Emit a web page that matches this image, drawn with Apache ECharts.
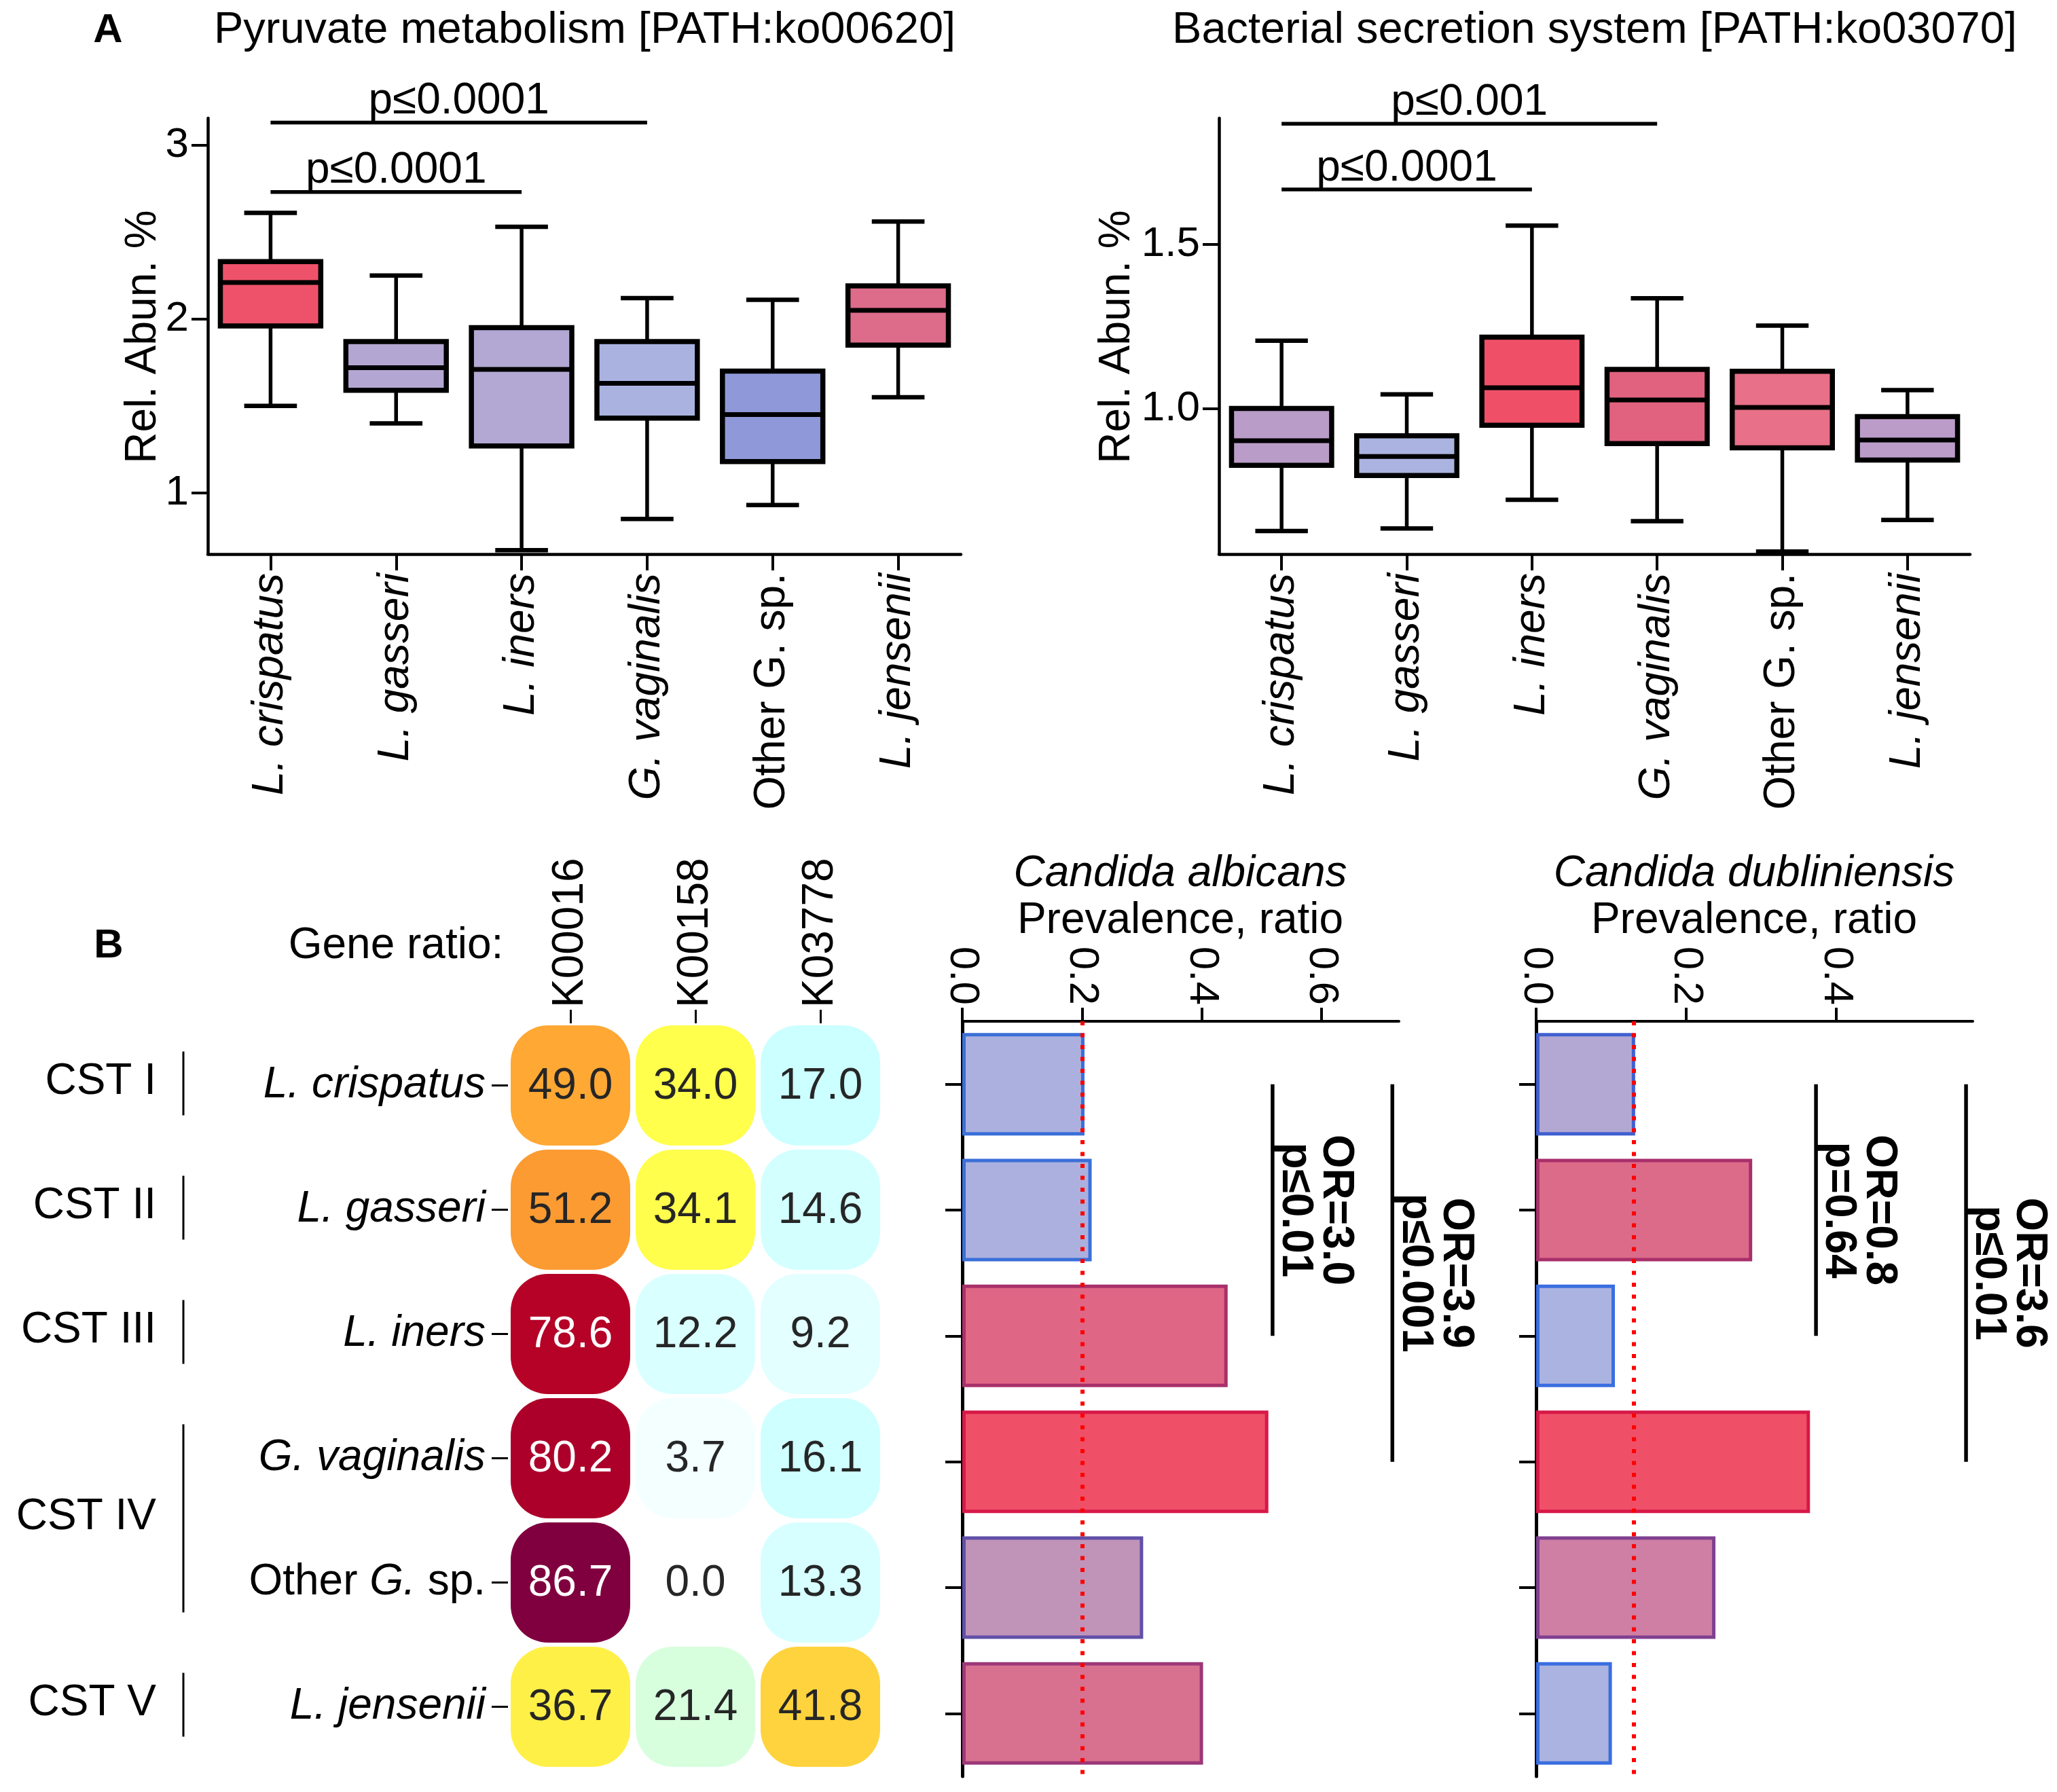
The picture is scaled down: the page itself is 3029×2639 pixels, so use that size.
<!DOCTYPE html>
<html><head><meta charset="utf-8">
<script src="https://cdn.jsdelivr.net/npm/echarts@6/dist/echarts.min.js"></script>
<style>html,body{margin:0;padding:0;background:#fff}#c{width:3029px;height:2639px}</style>
</head><body><div id="c"></div>
<script>
// ================= DATA =================
const species = ['L. crispatus','L. gasseri','L. iners','G. vaginalis','Other G. sp.','L. jensenii'];
// Panel A box statistics: [min, q1, median, q3, max]
const pyruvateBox = [
  [1.50,1.96,2.21,2.33,2.61],
  [1.40,1.59,1.72,1.87,2.25],
  [0.67,1.27,1.71,1.95,2.53],
  [0.85,1.43,1.63,1.87,2.12],
  [0.93,1.18,1.45,1.70,2.11],
  [1.55,1.85,2.05,2.19,2.56]
];
const secretionBox = [
  [0.627,0.827,0.902,1.000,1.206],
  [0.635,0.796,0.854,0.917,1.043],
  [0.722,0.949,1.063,1.217,1.556],
  [0.657,0.893,1.026,1.119,1.335],
  [0.565,0.880,1.003,1.113,1.252],
  [0.661,0.843,0.904,0.975,1.056]
];
const pyruvateTicks = [1, 2, 3];
const secretionTicks = [1.0, 1.5];
const pyruvateSig = [{from:0,to:2,y:2.73,text:'p≤0.0001'},{from:0,to:3,y:3.13,text:'p≤0.0001'}];
const secretionSig = [{from:0,to:2,y:1.666,text:'p≤0.0001'},{from:0,to:3,y:1.866,text:'p≤0.001'}];
// Panel B
const genes = ['K00016','K00158','K03778'];
const geneRatio = [
  [49.0,34.0,17.0],
  [51.2,34.1,14.6],
  [78.6,12.2,9.2],
  [80.2,3.7,16.1],
  [86.7,0.0,13.3],
  [36.7,21.4,41.8]
];
const cstGroups = [
  {name:'CST I',from:0,to:0},{name:'CST II',from:1,to:1},{name:'CST III',from:2,to:2},
  {name:'CST IV',from:3,to:4},{name:'CST V',from:5,to:5}
];
const albicansPrev = [0.204,0.216,0.443,0.511,0.302,0.402];
const dubliniensisPrev = [0.132,0.288,0.105,0.365,0.239,0.101];
const albicansRef = 0.203;
const dubliniensisRef = 0.129;
const prevTicksAlb = [0, 0.2, 0.4, 0.6];
const prevTicksDub = [0, 0.2, 0.4];
const albicansOR = [{x:0.518,from:0,to:2,lines:['OR=3.0','p≤0.01']},{x:0.718,from:0,to:3,lines:['OR=3.9','p≤0.001']}];
const dubliniensisOR = [{x:0.373,from:0,to:2,lines:['OR=0.8','p=0.64']},{x:0.573,from:0,to:3,lines:['OR=3.6','p≤0.01']}];

// ================= STYLE =================
const FONT = '"Liberation Sans", Arial, Helvetica, sans-serif';
const pyrColors = ['#ee526b','#b4a6d2','#b3a8d4','#aab3e0','#8f98d8','#dd6b8a'];
const secColors = ['#b99cc7','#abb3e0','#ef5068','#e0627f','#e87088','#bb9cc8'];
const albFill = ['#abb0de','#abb0de','#e06686','#ef5068','#c093b8','#d87090'];
const albBorder = ['#3a6fd8','#3a6fd8','#a8306a','#d81848','#6050a8','#9c3878'];
const dubFill = ['#b3a8d3','#dc6b8a','#abb3e0','#ef5068','#cf7ea4','#abb3e0'];
const dubBorder = ['#4060d0','#a8306a','#3a6ee0','#d81848','#804090','#3a6ee0'];
const heatStops = [[0,'#ffffff'],[17,'#ccffff'],[22,'#d9ffd9'],[34,'#ffff4c'],[42,'#ffd23d'],[50,'#ffa233'],[79,'#b40026'],[87,'#7e0040']];

function hex2rgb(h){return [parseInt(h.substr(1,2),16),parseInt(h.substr(3,2),16),parseInt(h.substr(5,2),16)];}
function heatColor(v){
  for(let i=1;i<heatStops.length;i++){
    if(v<=heatStops[i][0]){
      const [v0,c0]=heatStops[i-1],[v1,c1]=heatStops[i];
      const t=(v-v0)/(v1-v0), a=hex2rgb(c0), b=hex2rgb(c1);
      return 'rgb('+a.map((x,k)=>Math.round(x+(b[k]-x)*t)).join(',')+')';
    }
  }
  return heatStops[heatStops.length-1][1];
}
function txtStyle(text,font,fill,align,valign,extra){
  return Object.assign({text:text,font:font,fill:fill,align:align,textAlign:align,verticalAlign:valign,textVerticalAlign:valign},extra||{});
}

// ================= RENDERERS =================
function boxRender(colors){
  return function(params, api){
    const i = api.value(0);
    const pMin=api.coord([i,api.value(1)]), pQ1=api.coord([i,api.value(2)]), pMd=api.coord([i,api.value(3)]),
          pQ3=api.coord([i,api.value(4)]), pMax=api.coord([i,api.value(5)]);
    const band = api.size([1,0])[0];
    const x = pMin[0], bw = band*0.80, cw = band*0.42;
    return {type:'group', children:[
      {type:'line', shape:{x1:x,y1:pMax[1],x2:x,y2:pQ3[1]}, style:{stroke:'#000',lineWidth:5.5}},
      {type:'line', shape:{x1:x,y1:pQ1[1],x2:x,y2:pMin[1]}, style:{stroke:'#000',lineWidth:5.5}},
      {type:'line', shape:{x1:x-cw/2,y1:pMax[1],x2:x+cw/2,y2:pMax[1]}, style:{stroke:'#000',lineWidth:6.5}},
      {type:'line', shape:{x1:x-cw/2,y1:pMin[1],x2:x+cw/2,y2:pMin[1]}, style:{stroke:'#000',lineWidth:6.5}},
      {type:'rect', shape:{x:x-bw/2,y:pQ3[1],width:bw,height:pQ1[1]-pQ3[1]}, style:{fill:colors[params.dataIndex],stroke:'#000',lineWidth:7.5}},
      {type:'line', shape:{x1:x-bw/2,y1:pMd[1],x2:x+bw/2,y2:pMd[1]}, style:{stroke:'#000',lineWidth:7}}
    ]};
  };
}
function sigRender(src){
  return function(params, api){
    const a = api.coord([api.value(0), api.value(2)]), b = api.coord([api.value(1), api.value(2)]);
    return {type:'group', children:[
      {type:'line', shape:{x1:a[0],y1:a[1],x2:b[0],y2:b[1]}, style:{stroke:'#000',lineWidth:5.5}},
      {type:'text', x:(a[0]+b[0])/2, y:a[1]+1, style:txtStyle(src[params.dataIndex].text,'64px '+FONT,'#000','center','bottom')}
    ]};
  };
}
function heatRender(params, api){
  const c = api.coord([api.value(0), api.value(1)]);
  const sz = api.size([1,1]);
  const w = sz[0]-8, h = sz[1]-6, v = api.value(2);
  return {type:'group', children:[
    {type:'rect', shape:{x:c[0]-w/2,y:c[1]-h/2,width:w,height:h,r:55}, style:{fill:heatColor(v)}},
    {type:'text', x:c[0], y:c[1]+2, style:txtStyle(v.toFixed(1),'64px '+FONT, v>60?'#ffffff':'#262626','center','middle')}
  ]};
}
function orRender(src){
  return function(params, api){
    const a = api.coord([api.value(0), api.value(1)]), b = api.coord([api.value(0), api.value(2)]);
    return {type:'group', children:[
      {type:'line', shape:{x1:a[0],y1:a[1],x2:b[0],y2:b[1]}, style:{stroke:'#000',lineWidth:5.5}},
      {type:'text', x:a[0]+63, y:(a[1]+b[1])/2, rotation:-Math.PI/2,
       style:txtStyle(src[params.dataIndex].lines.join('\n'),'bold 64px '+FONT,'#000','center','middle',{lineHeight:60})}
    ]};
  };
}

// ================= AXES =================
const richLab = {
  i:{fontStyle:'italic',fontSize:64,fontFamily:FONT,color:'#000'},
  n:{fontStyle:'normal',fontSize:64,fontFamily:FONT,color:'#000'}
};
function topLabel(v){ return v.indexOf('Other')===0 ? '{n|'+v+'}' : '{i|'+v+'}'; }
function heatLabel(v){
  const m = v.match(/^(Other )(\S+)( .*)$/);
  return m ? '{n|'+m[1]+'}{i|'+m[2]+'}{n|'+m[3]+'}' : '{i|'+v+'}';
}
const blackLine = w => ({show:true, lineStyle:{color:'#000', width:w}});
function boxX(gi){
  return {gridIndex:gi, type:'category', data:species, boundaryGap:true,
    axisLine:blackLine(4.5),
    axisTick:{show:true, alignWithLabel:true, length:24, lineStyle:{color:'#000',width:4}},
    axisLabel:{interval:0, rotate:90, margin:28, formatter:topLabel, rich:richLab}};
}
function boxY(gi,min,max,ticks,digits){
  return {gridIndex:gi, type:'value', min:min, max:max,
    axisLine:blackLine(4.5), splitLine:{show:false},
    axisTick:{show:true, length:24, customValues:ticks, lineStyle:{color:'#000',width:4}},
    axisLabel:{customValues:ticks, margin:28, fontSize:62, fontFamily:FONT, color:'#000',
      formatter: v => digits ? Number(v).toFixed(digits) : String(v)}};
}
function prevX(gi,max,ticks){
  return {gridIndex:gi, type:'value', position:'top', min:0, max:max,
    axisLine:blackLine(4), splitLine:{show:false},
    axisTick:{show:true, length:20, customValues:ticks, lineStyle:{color:'#000',width:4}},
    axisLabel:{customValues:ticks, rotate:90, margin:24, fontSize:62, fontFamily:FONT, color:'#000',
      formatter: v => Number(v).toFixed(1)}};
}
function prevY(gi){
  return {gridIndex:gi, type:'category', data:species, inverse:true, boundaryGap:true,
    axisLine:blackLine(5),
    axisTick:{show:true, alignWithLabel:true, length:25, lineStyle:{color:'#000',width:4}},
    axisLabel:{show:false}};
}

const heatData = [];
geneRatio.forEach((row,r)=>row.forEach((v,c)=>heatData.push([c,r,v])));

const option = {
  backgroundColor:'#ffffff',
  animation:false,
  textStyle:{fontFamily:FONT},
  grid:[
    {left:306, top:174, width:1109, height:642},
    {left:1795, top:174, width:1106, height:642},
    {left:748, top:1507, width:552, height:1098},
    {left:1417, top:1504, width:643, height:1112},
    {left:2262, top:1504, width:643, height:1112}
  ],
  xAxis:[
    boxX(0), boxX(1),
    {gridIndex:2, type:'category', data:genes, position:'top', boundaryGap:true,
      axisLine:{show:false},
      axisTick:{show:true, alignWithLabel:true, length:20, lineStyle:{color:'#000',width:3}},
      axisLabel:{interval:0, rotate:-90, margin:23, fontSize:64, fontFamily:FONT, color:'#000'}},
    prevX(3,0.729,prevTicksAlb), prevX(4,0.582,prevTicksDub)
  ],
  yAxis:[
    boxY(0,0.648,3.155,pyruvateTicks,0), boxY(1,0.557,1.883,secretionTicks,1),
    {gridIndex:2, type:'category', data:species, inverse:true, boundaryGap:true,
      axisLine:{show:false},
      axisTick:{show:true, alignWithLabel:true, length:24, lineStyle:{color:'#000',width:3}},
      axisLabel:{interval:0, margin:33, formatter:heatLabel, rich:richLab}},
    prevY(3), prevY(4)
  ],
  series:[
    {type:'custom', xAxisIndex:0, yAxisIndex:0, renderItem:boxRender(pyrColors),
      data:pyruvateBox.map((d,i)=>[i].concat(d)), encode:{x:0,y:[1,2,3,4,5]}},
    {type:'custom', xAxisIndex:0, yAxisIndex:0, renderItem:sigRender(pyruvateSig), clip:false,
      data:pyruvateSig.map(s=>[s.from,s.to,s.y]), encode:{x:[0,1],y:2}},
    {type:'custom', xAxisIndex:1, yAxisIndex:1, renderItem:boxRender(secColors),
      data:secretionBox.map((d,i)=>[i].concat(d)), encode:{x:0,y:[1,2,3,4,5]}},
    {type:'custom', xAxisIndex:1, yAxisIndex:1, renderItem:sigRender(secretionSig), clip:false,
      data:secretionSig.map(s=>[s.from,s.to,s.y]), encode:{x:[0,1],y:2}},
    {type:'custom', xAxisIndex:2, yAxisIndex:2, renderItem:heatRender,
      data:heatData, encode:{x:0,y:1}},
    {type:'bar', xAxisIndex:3, yAxisIndex:3, barWidth:151,
      data:albicansPrev.map((v,i)=>({value:v, itemStyle:{color:albFill[i], borderColor:albBorder[i], borderWidth:5}})),
      markLine:{silent:true, symbol:'none', label:{show:false}, animation:false,
        lineStyle:{color:'#ff0000', type:[6,11.5], width:6}, data:[{xAxis:albicansRef}]}},
    {type:'custom', xAxisIndex:3, yAxisIndex:3, renderItem:orRender(albicansOR), clip:false,
      data:albicansOR.map(o=>[o.x,o.from,o.to]), encode:{x:0,y:[1,2]}},
    {type:'bar', xAxisIndex:4, yAxisIndex:4, barWidth:151,
      data:dubliniensisPrev.map((v,i)=>({value:v, itemStyle:{color:dubFill[i], borderColor:dubBorder[i], borderWidth:5}})),
      markLine:{silent:true, symbol:'none', label:{show:false}, animation:false,
        lineStyle:{color:'#ff0000', type:[6,11.5], width:6}, data:[{xAxis:dubliniensisRef}]}},
    {type:'custom', xAxisIndex:4, yAxisIndex:4, renderItem:orRender(dubliniensisOR), clip:false,
      data:dubliniensisOR.map(o=>[o.x,o.from,o.to]), encode:{x:0,y:[1,2]}}
  ]
};

const chart = echarts.init(document.getElementById('c'), null, {renderer:'canvas', width:3029, height:2639});
chart.setOption(option);

// ================= TEXT & DECORATIONS =================
function T(text,x,y,font,align,valign,rot){
  const e = {type:'text', x:x, y:y, style:txtStyle(text,font,'#000',align||'center',valign||'middle')};
  if(rot) e.rotation = rot;
  return e;
}
const gfx = [
  T('A',159,45,'bold 60px '+FONT),
  T('Pyruvate metabolism [PATH:ko00620]',861,45,'65px '+FONT),
  T('Bacterial secretion system [PATH:ko03070]',2348,45,'65px '+FONT),
  T('Rel. Abun. %',211,496,'64px '+FONT,'center','middle',Math.PI/2),
  T('Rel. Abun. %',1645,496,'64px '+FONT,'center','middle',Math.PI/2),
  T('B',160,1393,'bold 60px '+FONT),
  T('Gene ratio:',583,1393,'64px '+FONT),
  T('Candida albicans',1738,1287,'italic 64px '+FONT),
  T('Prevalence, ratio',1738,1356,'64px '+FONT),
  T('Candida dubliniensis',2583,1287,'italic 64px '+FONT),
  T('Prevalence, ratio',2583,1356,'64px '+FONT)
];
cstGroups.forEach(g=>{
  const y1 = chart.convertToPixel({gridIndex:2},[0,g.from])[1];
  const y2 = chart.convertToPixel({gridIndex:2},[0,g.to])[1];
  gfx.push(T(g.name,230,(y1+y2)/2-5,'64px '+FONT,'right','middle'));
  gfx.push({type:'line', shape:{x1:270,y1:y1-50,x2:270,y2:y2+44}, style:{stroke:'#000',lineWidth:3}});
});
chart.setOption({graphic:gfx});
</script>
</body></html>
